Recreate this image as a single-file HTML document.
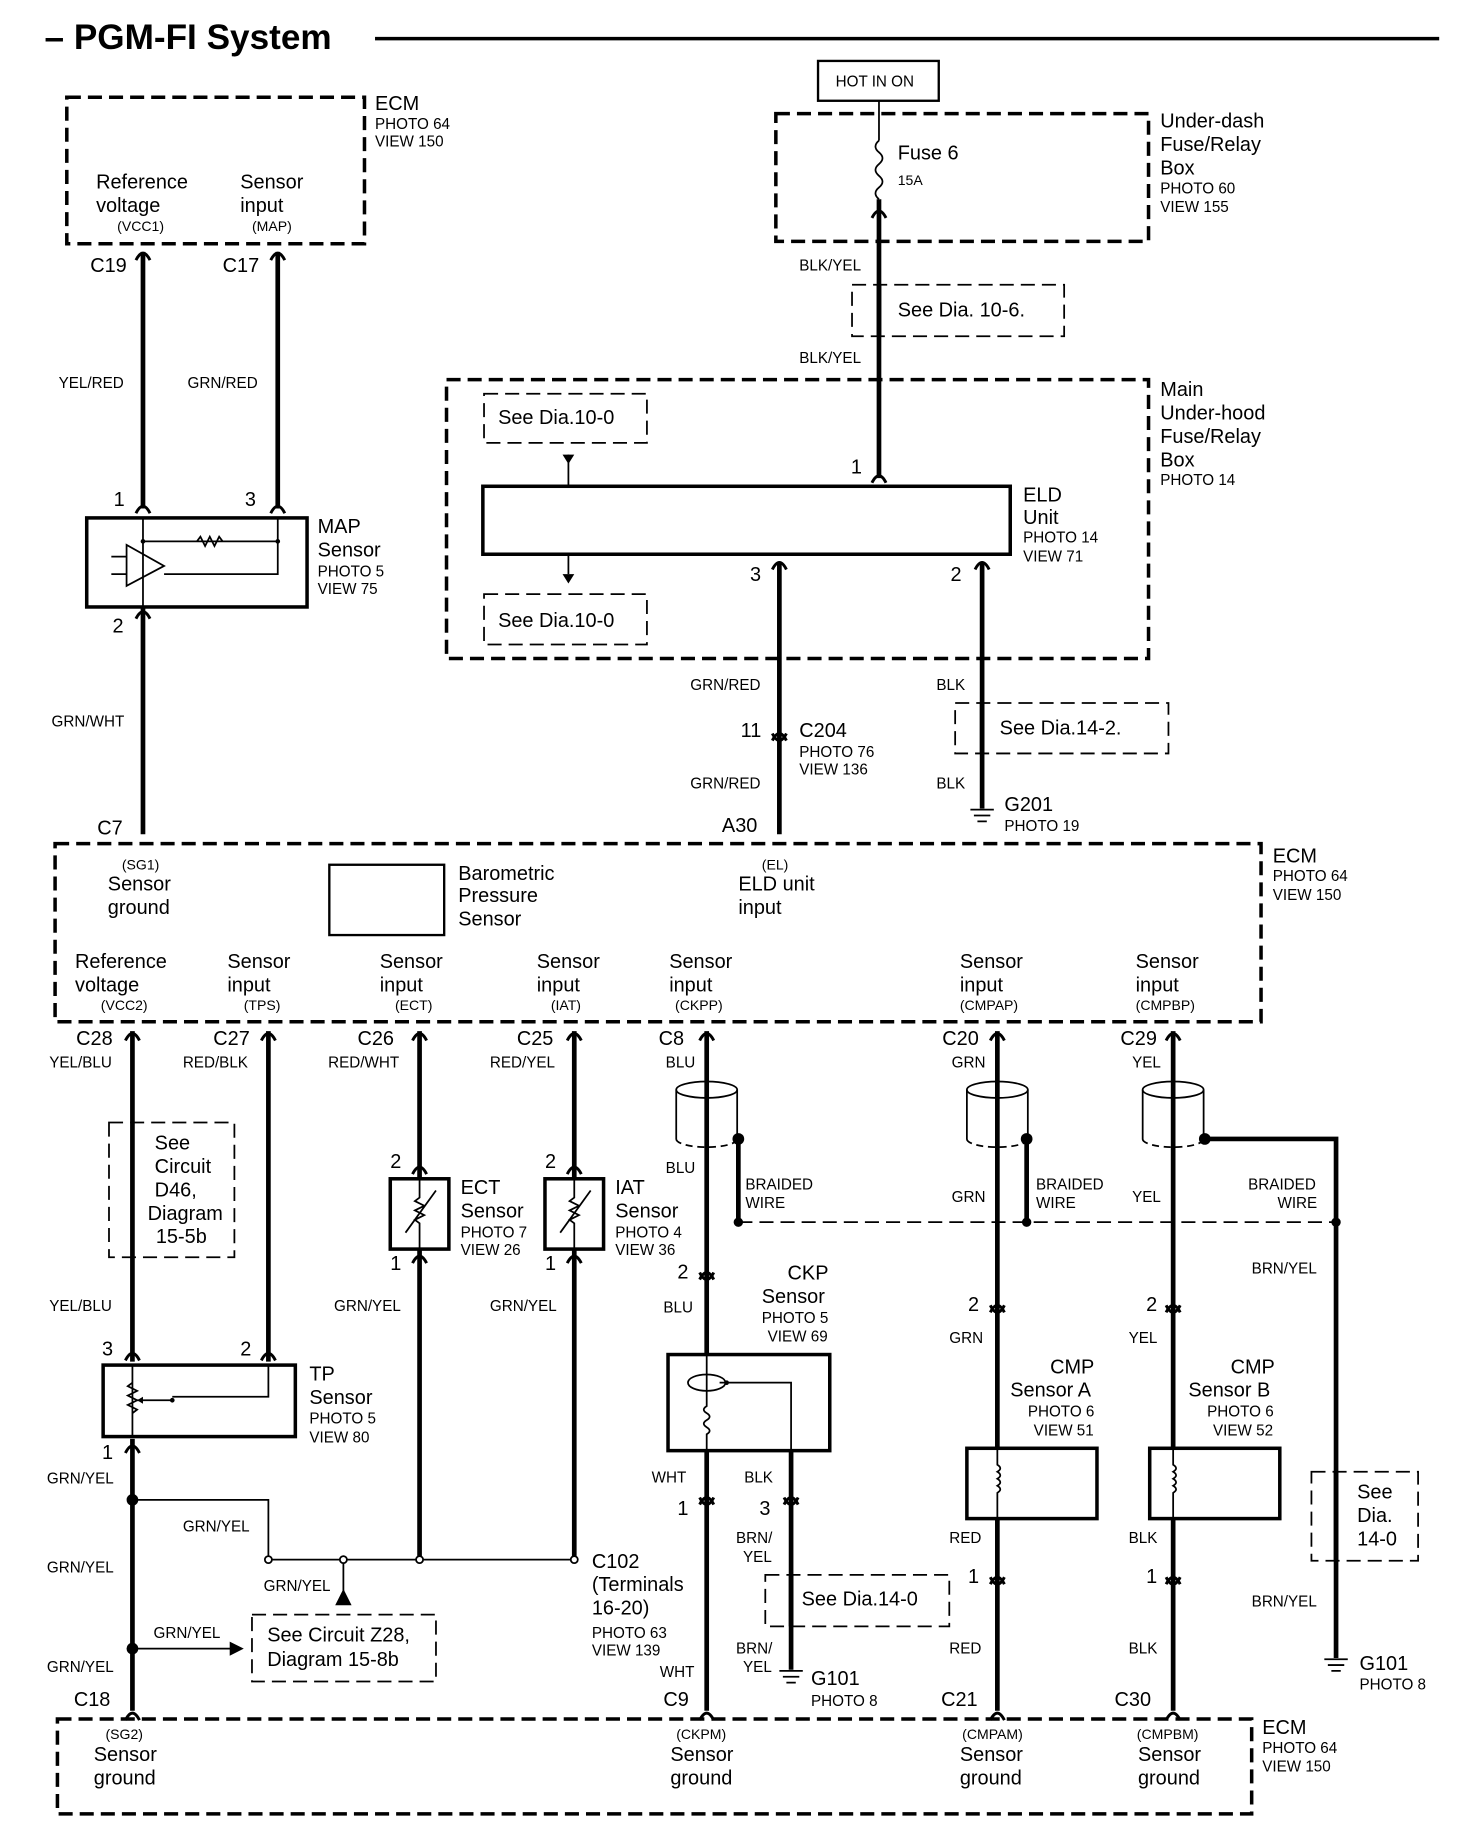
<!DOCTYPE html>
<html><head><meta charset="utf-8"><style>
html,body{margin:0;padding:0;background:#fff}
svg{display:block}
text{font-family:"Liberation Sans",Arial,sans-serif;fill:#000}
.t{font-size:17px}.s{font-size:13px}.xs{font-size:12px}
.w{stroke:#000;stroke-width:4;fill:none}
.n{stroke:#000;stroke-width:1.5;fill:none}
.d{stroke:#000;stroke-width:3;fill:none;stroke-dasharray:12 6}
.dl{stroke:#000;stroke-width:1.5;fill:none;stroke-dasharray:12 6}
.b{stroke:#000;stroke-width:3;fill:#fff}
.c{stroke:#000;stroke-width:2.5;fill:none}
</style></head><body>
<svg width="1472" height="1842" viewBox="0 0 1256 1572" preserveAspectRatio="none" xmlns="http://www.w3.org/2000/svg">
<text x="38" y="42" style="font-size:30px;font-weight:bold">– PGM-FI System</text>
<line x1="320" y1="33" x2="1228" y2="33" stroke="#000" stroke-width="3"/>

<!-- top ECM -->
<rect x="57" y="83" width="254" height="125" class="d"/>
<text x="320" y="94" class="t">ECM</text><text x="320" y="110" class="s">PHOTO 64</text><text x="320" y="125" class="s">VIEW 150</text>
<text x="82" y="161" class="t">Reference</text><text x="82" y="181" class="t">voltage</text><text x="100" y="197" class="xs">(VCC1)</text>
<text x="205" y="161" class="t">Sensor</text><text x="205" y="181" class="t">input</text><text x="215" y="197" class="xs">(MAP)</text>
<line x1="122" y1="215" x2="122" y2="434" class="w"/><line x1="237" y1="215" x2="237" y2="434" class="w"/>
<path d="M116,222 Q122,210 128,222 M231,222 Q237,210 243,222 M116,438 Q122,426 128,438 M231,438 Q237,426 243,438 M116,528 Q122,516 128,528" class="c"/>
<text x="77" y="232" class="t">C19</text><text x="190" y="232" class="t">C17</text>
<text x="50" y="331" class="s">YEL/RED</text><text x="160" y="331" class="s">GRN/RED</text>
<text x="97" y="432" class="t">1</text><text x="209" y="432" class="t">3</text>
<rect x="74" y="442" width="188" height="76" class="b"/>
<path d="M122,442 V518 M122,462 H237 M237,442 V490 H140 M108,475 H95 M108,490 H95" class="n"/>
<path d="M108,465 L140,483 L108,500 Z" class="n"/>
<path d="M168,462 l3,-4 l4,8 l4,-8 l4,8 l4,-8 l3,4" class="n" fill="#fff"/>
<circle cx="122" cy="462" r="2"/><circle cx="237" cy="462" r="2"/>
<text x="271" y="455" class="t">MAP</text><text x="271" y="475" class="t">Sensor</text><text x="271" y="492" class="s">PHOTO 5</text><text x="271" y="507" class="s">VIEW 75</text>
<line x1="122" y1="518" x2="122" y2="712" class="w"/>
<text x="96" y="540" class="t">2</text><text x="44" y="620" class="s">GRN/WHT</text><text x="83" y="712" class="t">C7</text>

<!-- fuse -->
<rect x="698" y="52" width="103" height="34" fill="none" stroke="#000" stroke-width="2"/>
<text x="713" y="74" class="s">HOT IN ON</text>
<rect x="662" y="97" width="318" height="109" class="d"/>
<line x1="750" y1="86" x2="750" y2="120" class="n"/>
<path d="M750,120 q-6,5 0,10 q6,5 0,10 q-6,5 0,10 q6,5 0,10 q-6,5 0,10" class="n"/>
<line x1="750" y1="170" x2="750" y2="408" class="w"/>
<path d="M744,186 Q750,174 756,186 M744,412 Q750,400 756,412" class="c"/>
<text x="766" y="136" class="t">Fuse 6</text><text x="766" y="158" class="xs">15A</text>
<text x="990" y="109" class="t">Under-dash</text><text x="990" y="129" class="t">Fuse/Relay</text><text x="990" y="149" class="t">Box</text><text x="990" y="165" class="s">PHOTO 60</text><text x="990" y="181" class="s">VIEW 155</text>
<text x="682" y="231" class="s">BLK/YEL</text>
<rect x="727" y="243" width="181" height="44" class="dl" fill="#fff"/>
<line x1="750" y1="243" x2="750" y2="287" class="w"/>
<text x="766" y="270" class="t">See Dia. 10-6.</text>
<text x="682" y="310" class="s">BLK/YEL</text>
<rect x="381" y="324" width="599" height="238" class="d"/>
<text x="990" y="338" class="t">Main</text><text x="990" y="358" class="t">Under-hood</text><text x="990" y="378" class="t">Fuse/Relay</text><text x="990" y="398" class="t">Box</text><text x="990" y="414" class="s">PHOTO 14</text>
<rect x="413" y="336" width="139" height="42" class="dl"/><text x="425" y="362" class="t">See Dia.10-0</text>
<rect x="413" y="507" width="139" height="43" class="dl"/><text x="425" y="535" class="t">See Dia.10-0</text>
<line x1="485" y1="388" x2="485" y2="490" class="n"/><path d="M480,388 H490 L485,396 Z M480,490 H490 L485,498 Z"/>
<text x="726" y="404" class="t">1</text>
<rect x="412" y="415" width="450" height="58" class="b"/>
<text x="873" y="428" class="t">ELD</text><text x="873" y="447" class="t">Unit</text><text x="873" y="463" class="s">PHOTO 14</text><text x="873" y="479" class="s">VIEW 71</text>
<line x1="665" y1="480" x2="665" y2="712" class="w"/><line x1="838" y1="480" x2="838" y2="690" class="w"/>
<path d="M659,486 Q665,474 671,486 M832,486 Q838,474 844,486 M659,632 Q665,620 671,632 M659,626 Q665,638 671,626" class="c"/>
<text x="640" y="496" class="t">3</text><text x="811" y="496" class="t">2</text>
<text x="589" y="589" class="s">GRN/RED</text><text x="799" y="589" class="s">BLK</text>
<text x="632" y="629" class="t">11</text><text x="682" y="629" class="t">C204</text><text x="682" y="646" class="s">PHOTO 76</text><text x="682" y="661" class="s">VIEW 136</text>
<text x="589" y="673" class="s">GRN/RED</text><text x="799" y="673" class="s">BLK</text><text x="616" y="710" class="t">A30</text>
<rect x="815" y="600" width="182" height="43" class="dl" fill="#fff"/><line x1="838" y1="600" x2="838" y2="643" class="w"/>
<text x="853" y="627" class="t">See Dia.14-2.</text>
<path d="M828,691 H848 M831,696 H845 M834,701 H842" class="n" stroke-width="2"/>
<text x="857" y="692" class="t">G201</text><text x="857" y="709" class="s">PHOTO 19</text>

<!-- big ECM -->
<rect x="47" y="720" width="1029" height="152" class="d"/>
<text x="1086" y="736" class="t">ECM</text><text x="1086" y="752" class="s">PHOTO 64</text><text x="1086" y="768" class="s">VIEW 150</text>
<text x="104" y="742" class="xs">(SG1)</text><text x="92" y="760" class="t">Sensor</text><text x="92" y="780" class="t">ground</text>
<rect x="281" y="738" width="98" height="60" fill="none" stroke="#000" stroke-width="2"/>
<text x="391" y="751" class="t">Barometric</text><text x="391" y="770" class="t">Pressure</text><text x="391" y="790" class="t">Sensor</text>
<text x="650" y="742" class="xs">(EL)</text><text x="630" y="760" class="t">ELD unit</text><text x="630" y="780" class="t">input</text>
<text x="64" y="826" class="t">Reference</text><text x="64" y="846" class="t">voltage</text><text x="86" y="862" class="xs">(VCC2)</text>
<text x="194" y="826" class="t">Sensor</text><text x="194" y="846" class="t">input</text><text x="208" y="862" class="xs">(TPS)</text>
<text x="324" y="826" class="t">Sensor</text><text x="324" y="846" class="t">input</text><text x="337" y="862" class="xs">(ECT)</text>
<text x="458" y="826" class="t">Sensor</text><text x="458" y="846" class="t">input</text><text x="470" y="862" class="xs">(IAT)</text>
<text x="571" y="826" class="t">Sensor</text><text x="571" y="846" class="t">input</text><text x="576" y="862" class="xs">(CKPP)</text>
<text x="819" y="826" class="t">Sensor</text><text x="819" y="846" class="t">input</text><text x="819" y="862" class="xs">(CMPAP)</text>
<text x="969" y="826" class="t">Sensor</text><text x="969" y="846" class="t">input</text><text x="969" y="862" class="xs">(CMPBP)</text>

<!-- lower wires -->
<g class="w">
<line x1="113" y1="880" x2="113" y2="1162"/><line x1="229" y1="880" x2="229" y2="1162"/>
<line x1="358" y1="880" x2="358" y2="1006"/><line x1="490" y1="880" x2="490" y2="1006"/>
<line x1="358" y1="1066" x2="358" y2="1331"/><line x1="490" y1="1066" x2="490" y2="1331"/>
<line x1="113" y1="1228" x2="113" y2="1460"/>
<line x1="603" y1="880" x2="603" y2="1460"/><line x1="675" y1="1238" x2="675" y2="1425"/>
<line x1="851" y1="880" x2="851" y2="1460"/><line x1="1001" y1="880" x2="1001" y2="1460"/>
<line x1="1140" y1="1043" x2="1140" y2="1415"/>
</g>
<path d="M630,972 V1043 M876,972 V1043 M1028,972 H1140 V1043" class="w" stroke-width="3"/>
<path d="M630,1043 H1140" class="dl" stroke-width="2"/>
<path d="M113,1280 H229 V1331 H490 M293,1331 V1360 M113,1407 H205" class="n" stroke-width="2"/>
<path d="M286,1370 L293,1356 L300,1370 Z M196,1401 L208,1407 L196,1413 Z"/>
<g fill="#000"><circle cx="113" cy="1280" r="5"/><circle cx="113" cy="1407" r="5"/><circle cx="630" cy="972" r="5"/><circle cx="876" cy="972" r="5"/><circle cx="1028" cy="972" r="5"/><circle cx="630" cy="1043" r="4"/><circle cx="876" cy="1043" r="4"/><circle cx="1140" cy="1043" r="4"/></g>
<g fill="#fff" stroke="#000" stroke-width="1.5"><circle cx="229" cy="1331" r="3"/><circle cx="293" cy="1331" r="3"/><circle cx="358" cy="1331" r="3"/><circle cx="490" cy="1331" r="3"/></g>
<path class="c" d="M107,888 Q113,876 119,888 M223,888 Q229,876 235,888 M352,888 Q358,876 364,888 M484,888 Q490,876 496,888 M597,888 Q603,876 609,888 M845,888 Q851,876 857,888 M995,888 Q1001,876 1007,888
M352,1002 Q358,990 364,1002 M484,1002 Q490,990 496,1002 M352,1078 Q358,1066 364,1078 M484,1078 Q490,1066 496,1078
M107,1161 Q113,1149 119,1161 M223,1161 Q229,1149 235,1161 M107,1240 Q113,1228 119,1240
M597,1092 Q603,1080 609,1092 M597,1086 Q603,1098 609,1086 M845,1120 Q851,1108 857,1120 M845,1114 Q851,1126 857,1114 M995,1120 Q1001,1108 1007,1120 M995,1114 Q1001,1126 1007,1114
M597,1284 Q603,1272 609,1284 M597,1278 Q603,1290 609,1278 M669,1284 Q675,1272 681,1284 M669,1278 Q675,1290 681,1278
M845,1352 Q851,1340 857,1352 M845,1346 Q851,1358 857,1346 M995,1352 Q1001,1340 1007,1352 M995,1346 Q1001,1358 1007,1346
M107,1468 Q113,1456 119,1468 M597,1468 Q603,1456 609,1468 M845,1468 Q851,1456 857,1468 M995,1468 Q1001,1456 1007,1468"/>
<!-- shields -->
<g class="n" stroke-width="2">
<ellipse cx="603" cy="930" rx="26" ry="7"/><path d="M577,930 V972 M629,930 V972"/><path d="M577,972 A26,7 0 0 0 629,972" stroke-dasharray="6 4"/>
<ellipse cx="851" cy="930" rx="26" ry="7"/><path d="M825,930 V972 M877,930 V972"/><path d="M825,972 A26,7 0 0 0 877,972" stroke-dasharray="6 4"/>
<ellipse cx="1001" cy="930" rx="26" ry="7"/><path d="M975,930 V972 M1027,930 V972"/><path d="M975,972 A26,7 0 0 0 1027,972" stroke-dasharray="6 4"/>
</g>
<text x="65" y="892" class="t">C28</text><text x="182" y="892" class="t">C27</text><text x="305" y="892" class="t">C26</text><text x="441" y="892" class="t">C25</text><text x="562" y="892" class="t">C8</text><text x="804" y="892" class="t">C20</text><text x="956" y="892" class="t">C29</text>
<text x="42" y="911" class="s">YEL/BLU</text><text x="156" y="911" class="s">RED/BLK</text><text x="280" y="911" class="s">RED/WHT</text><text x="418" y="911" class="s">RED/YEL</text><text x="568" y="911" class="s">BLU</text><text x="812" y="911" class="s">GRN</text><text x="966" y="911" class="s">YEL</text>
<rect x="93" y="958" width="107" height="115" class="dl" fill="#fff"/>
<text x="132" y="981" class="t">See</text><text x="132" y="1001" class="t">Circuit</text><text x="132" y="1021" class="t">D46,</text><text x="126" y="1041" class="t">Diagram</text><text x="133" y="1061" class="t">15-5b</text>
<text x="42" y="1119" class="s">YEL/BLU</text>
<text x="87" y="1157" class="t">3</text><text x="205" y="1157" class="t">2</text>
<rect x="88" y="1165" width="164" height="61" class="b"/>
<path d="M113,1165 V1226 M229,1165 V1192 H147 M117,1195 H147" class="n"/>
<path d="M113,1180 l-4,3 l8,4 l-8,4 l8,4 l-8,4 l8,4 l-4,3" class="n"/>
<path d="M117,1195 l5,-3 v6 z"/><circle cx="147" cy="1195" r="2"/>
<text x="264" y="1178" class="t">TP</text><text x="264" y="1198" class="t">Sensor</text><text x="264" y="1215" class="s">PHOTO 5</text><text x="264" y="1231" class="s">VIEW 80</text>
<text x="87" y="1245" class="t">1</text>
<text x="40" y="1266" class="s">GRN/YEL</text><text x="156" y="1307" class="s">GRN/YEL</text><text x="40" y="1342" class="s">GRN/YEL</text><text x="225" y="1358" class="s">GRN/YEL</text><text x="131" y="1398" class="s">GRN/YEL</text><text x="40" y="1427" class="s">GRN/YEL</text>
<rect x="215" y="1378" width="157" height="57" class="dl"/>
<text x="228" y="1401" class="t">See Circuit Z28,</text><text x="228" y="1422" class="t">Diagram 15-8b</text>
<text x="63" y="1456" class="t">C18</text>
<!-- ECT/IAT -->
<rect x="333" y="1006" width="50" height="60" class="b"/><rect x="465" y="1006" width="50" height="60" class="b"/>
<path d="M358,1006 V1022 l-4,3 l8,4 l-8,4 l8,4 l-8,4 l4,3 V1066 M346,1052 L372,1016 M490,1006 V1022 l-4,3 l8,4 l-8,4 l8,4 l-8,4 l4,3 V1066 M478,1052 L504,1016" class="n"/>
<text x="333" y="997" class="t">2</text><text x="333" y="1084" class="t">1</text><text x="465" y="997" class="t">2</text><text x="465" y="1084" class="t">1</text>
<text x="393" y="1019" class="t">ECT</text><text x="393" y="1039" class="t">Sensor</text><text x="393" y="1056" class="s">PHOTO 7</text><text x="393" y="1071" class="s">VIEW 26</text>
<text x="525" y="1019" class="t">IAT</text><text x="525" y="1039" class="t">Sensor</text><text x="525" y="1056" class="s">PHOTO 4</text><text x="525" y="1071" class="s">VIEW 36</text>
<text x="285" y="1119" class="s">GRN/YEL</text><text x="418" y="1119" class="s">GRN/YEL</text>
<text x="505" y="1338" class="t">C102</text><text x="505" y="1358" class="t">(Terminals</text><text x="505" y="1378" class="t">16-20)</text><text x="505" y="1398" class="s">PHOTO 63</text><text x="505" y="1413" class="s">VIEW 139</text>
<!-- CKP -->
<text x="568" y="1001" class="s">BLU</text><text x="636" y="1015" class="s">BRAIDED</text><text x="636" y="1031" class="s">WIRE</text>
<text x="578" y="1091" class="t">2</text><text x="566" y="1120" class="s">BLU</text>
<text x="672" y="1092" class="t">CKP</text><text x="650" y="1112" class="t">Sensor</text><text x="650" y="1129" class="s">PHOTO 5</text><text x="655" y="1145" class="s">VIEW 69</text>
<rect x="570" y="1156" width="138" height="82" class="b"/>
<ellipse cx="603" cy="1180" rx="16" ry="7" class="n"/>
<path d="M603,1156 V1200 q-5,3 0,6 q5,3 0,6 q-5,3 0,6 q5,3 0,6 V1238 M614,1180 H675 V1238" class="n"/><circle cx="620" cy="1180" r="2"/>
<text x="556" y="1265" class="s">WHT</text><text x="635" y="1265" class="s">BLK</text>
<text x="578" y="1293" class="t">1</text><text x="648" y="1293" class="t">3</text>
<text x="628" y="1317" class="s">BRN/</text><text x="634" y="1333" class="s">YEL</text>
<rect x="653" y="1344" width="157" height="44" class="dl" fill="#fff"/><line x1="675" y1="1344" x2="675" y2="1388" class="w"/>
<text x="684" y="1370" class="t">See Dia.14-0</text>
<text x="628" y="1411" class="s">BRN/</text><text x="634" y="1427" class="s">YEL</text>
<path d="M665,1426 H685 M668,1431 H682 M671,1436 H679" class="n" stroke-width="2"/>
<text x="692" y="1438" class="t">G101</text><text x="692" y="1456" class="s">PHOTO 8</text>
<text x="563" y="1431" class="s">WHT</text><text x="566" y="1456" class="t">C9</text>
<!-- CMP A -->
<text x="812" y="1026" class="s">GRN</text><text x="884" y="1015" class="s">BRAIDED</text><text x="884" y="1031" class="s">WIRE</text>
<text x="826" y="1119" class="t">2</text><text x="810" y="1146" class="s">GRN</text>
<text x="896" y="1172" class="t">CMP</text><text x="862" y="1192" class="t">Sensor A</text><text x="877" y="1209" class="s">PHOTO 6</text><text x="882" y="1225" class="s">VIEW 51</text>
<rect x="825" y="1236" width="111" height="60" class="b"/>
<path d="M851,1236 V1250 q5,3 0,6 q5,3 0,6 q5,3 0,6 q5,3 0,6 V1296" class="n"/>
<text x="810" y="1317" class="s">RED</text><text x="826" y="1351" class="t">1</text><text x="810" y="1411" class="s">RED</text><text x="803" y="1456" class="t">C21</text>
<!-- CMP B -->
<text x="966" y="1026" class="s">YEL</text><text x="1065" y="1015" class="s">BRAIDED</text><text x="1090" y="1031" class="s">WIRE</text>
<text x="1068" y="1087" class="s">BRN/YEL</text>
<text x="978" y="1119" class="t">2</text><text x="963" y="1146" class="s">YEL</text>
<text x="1050" y="1172" class="t">CMP</text><text x="1014" y="1192" class="t">Sensor B</text><text x="1030" y="1209" class="s">PHOTO 6</text><text x="1035" y="1225" class="s">VIEW 52</text>
<rect x="981" y="1236" width="111" height="60" class="b"/>
<path d="M1001,1236 V1250 q5,3 0,6 q5,3 0,6 q5,3 0,6 q5,3 0,6 V1296" class="n"/>
<text x="963" y="1317" class="s">BLK</text><text x="978" y="1351" class="t">1</text><text x="963" y="1411" class="s">BLK</text><text x="951" y="1456" class="t">C30</text>
<rect x="1119" y="1256" width="91" height="76" class="dl" fill="#fff"/><line x1="1140" y1="1256" x2="1140" y2="1332" class="w"/>
<text x="1158" y="1279" class="t">See</text><text x="1158" y="1299" class="t">Dia.</text><text x="1158" y="1319" class="t">14-0</text>
<text x="1068" y="1371" class="s">BRN/YEL</text>
<path d="M1130,1416 H1150 M1133,1421 H1147 M1136,1426 H1144" class="n" stroke-width="2"/>
<text x="1160" y="1425" class="t">G101</text><text x="1160" y="1442" class="s">PHOTO 8</text>
<!-- bottom ECM -->
<rect x="49" y="1467" width="1019" height="81" class="d"/>
<text x="1077" y="1480" class="t">ECM</text><text x="1077" y="1496" class="s">PHOTO 64</text><text x="1077" y="1512" class="s">VIEW 150</text>
<text x="90" y="1484" class="xs">(SG2)</text><text x="80" y="1503" class="t">Sensor</text><text x="80" y="1523" class="t">ground</text>
<text x="577" y="1484" class="xs">(CKPM)</text><text x="572" y="1503" class="t">Sensor</text><text x="572" y="1523" class="t">ground</text>
<text x="821" y="1484" class="xs">(CMPAM)</text><text x="819" y="1503" class="t">Sensor</text><text x="819" y="1523" class="t">ground</text>
<text x="970" y="1484" class="xs">(CMPBM)</text><text x="971" y="1503" class="t">Sensor</text><text x="971" y="1523" class="t">ground</text>
</svg>
</body></html>
